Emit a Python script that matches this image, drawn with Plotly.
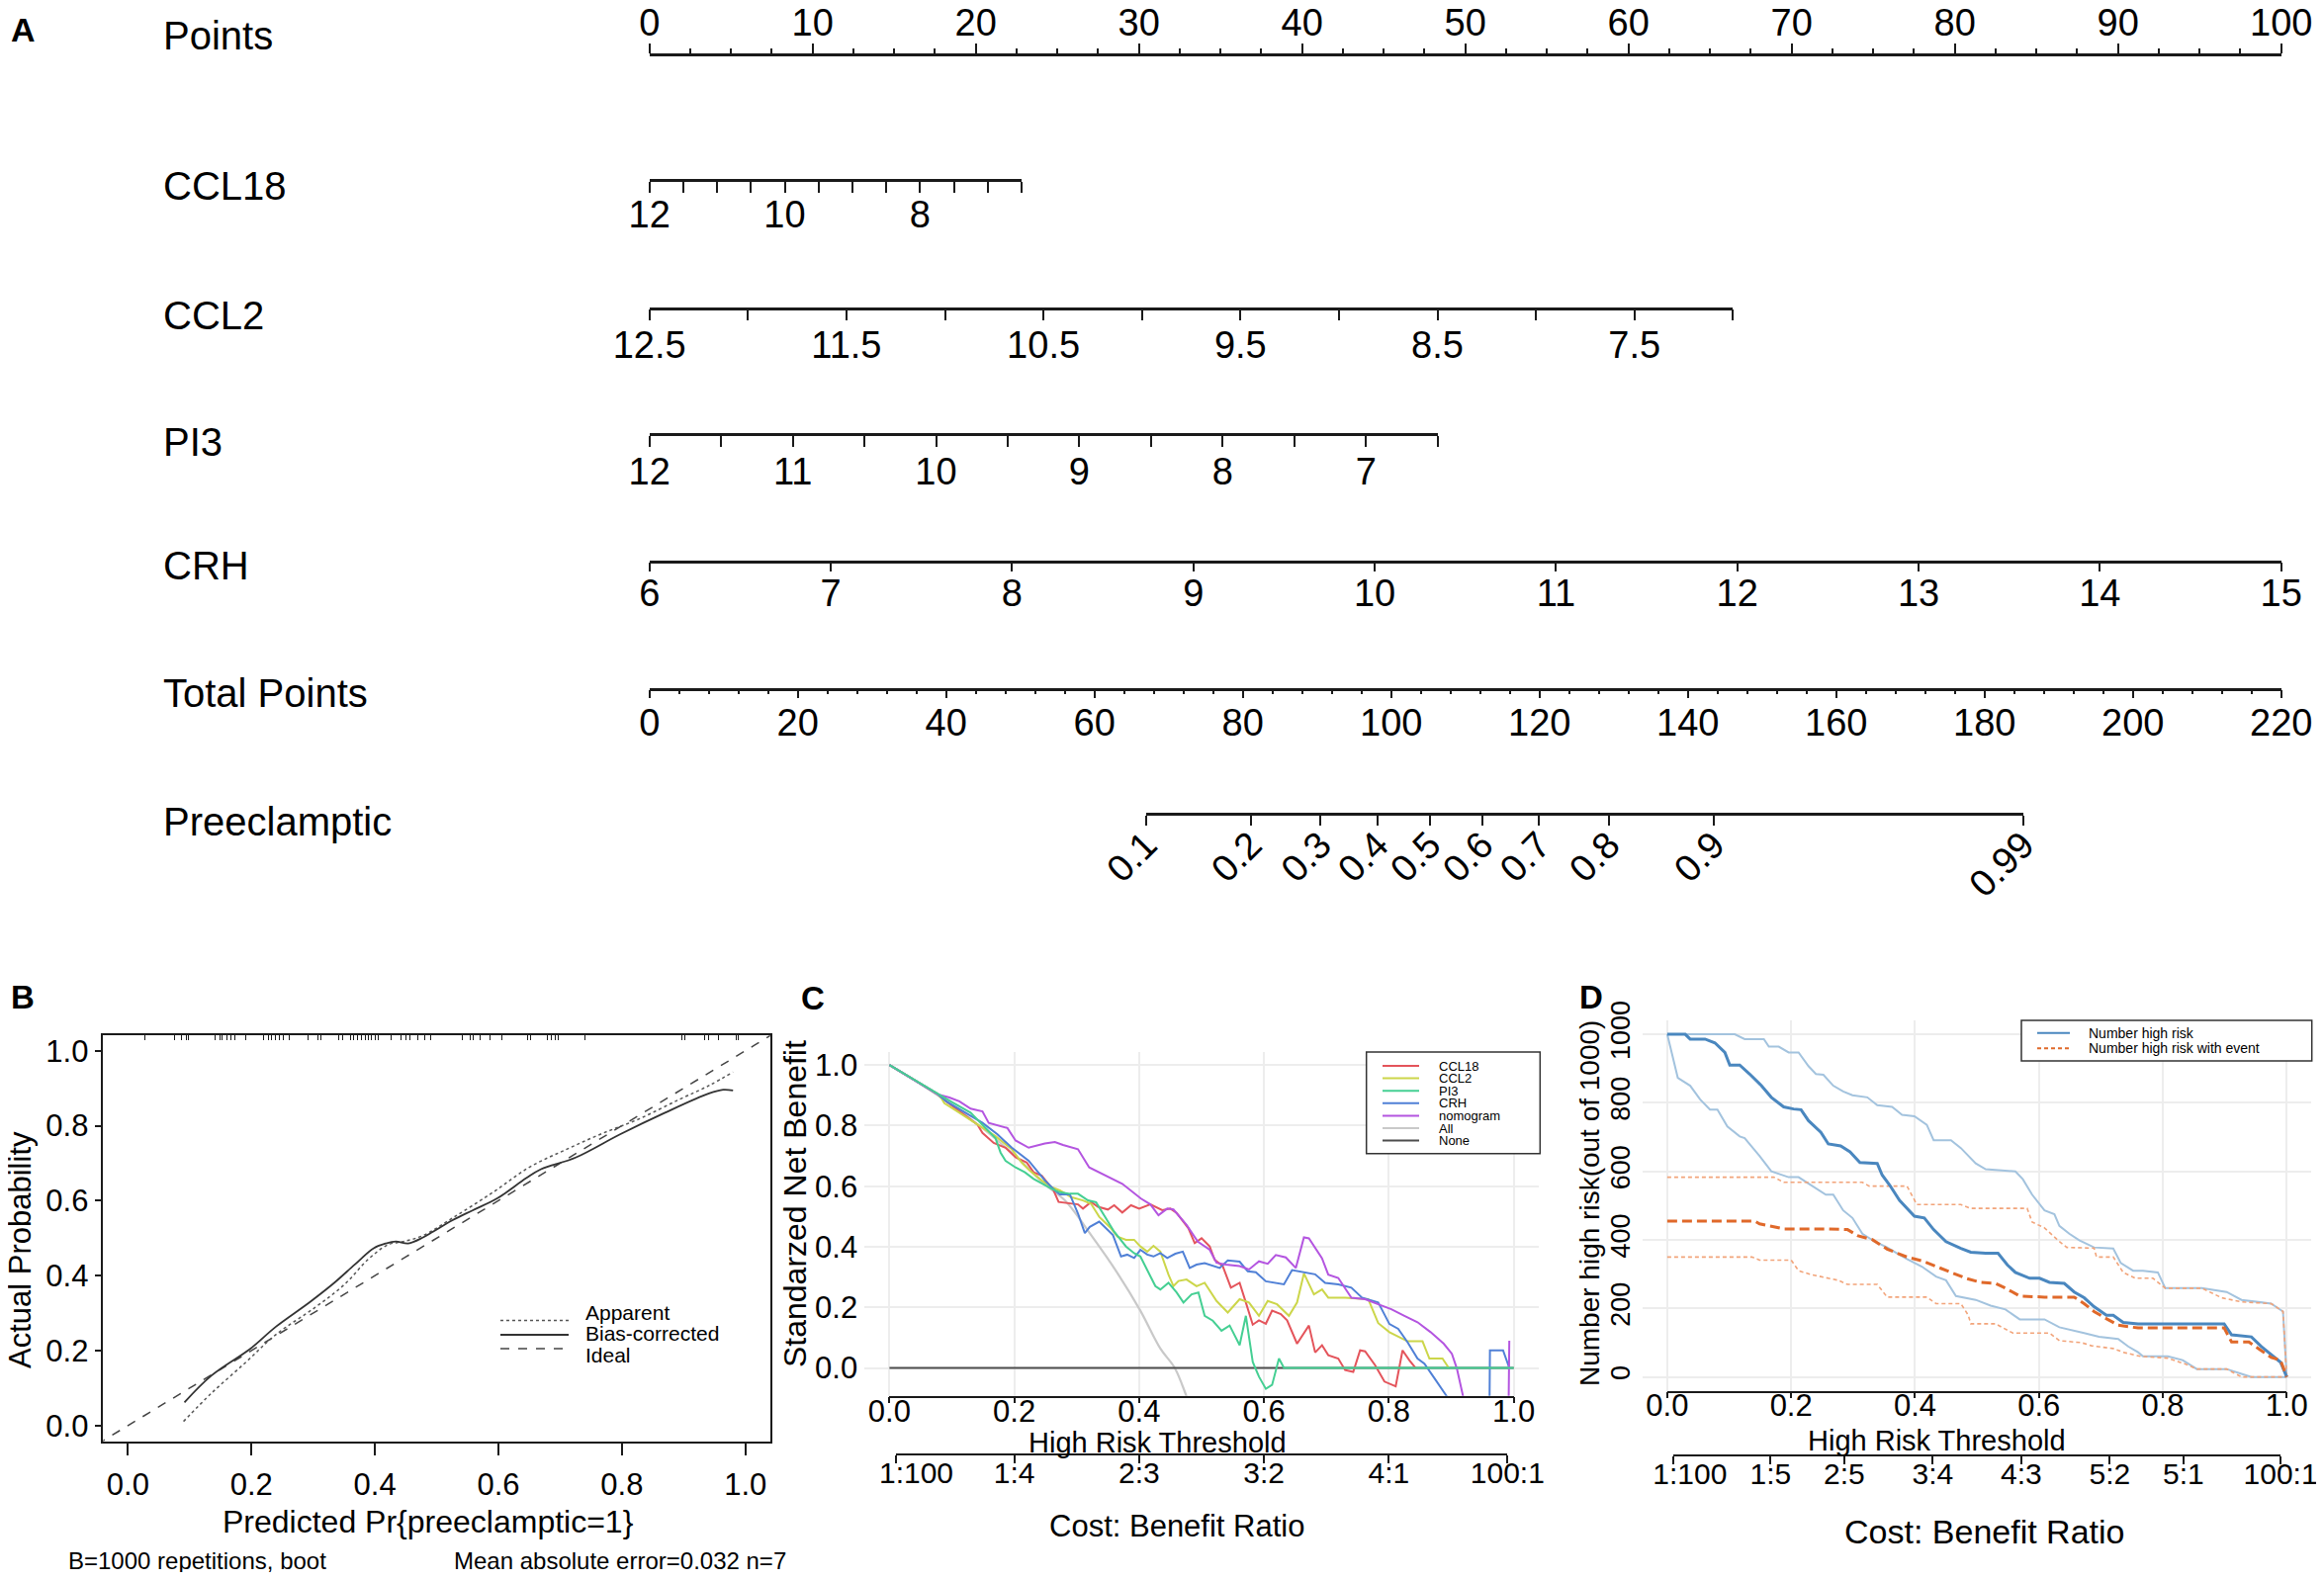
import numpy as np
import plotly.graph_objects as go

# the page has an 8px body margin, so the figure is drawn 16px smaller and
# every position below is given in the 2350x1598 picture's own pixels
OFF = 8
W, H = 2350 - 2 * OFF, 1598 - 2 * OFF

# ---------------- A: nomogram scales ----------------
points_major = [0, 10, 20, 30, 40, 50, 60, 70, 80, 90, 100]
points_minor = [i * 2.5 for i in range(41)]

ccl18_vals = [12, 11.5, 11, 10.5, 10, 9.5, 9, 8.5, 8, 7.5, 7, 6.5]
ccl18_text = ["12", "", "", "", "10", "", "", "", "8", "", "", ""]
ccl18_max_points = 22.8

ccl2_vals = [12.5, 12, 11.5, 11, 10.5, 10, 9.5, 9, 8.5, 8, 7.5, 7]
ccl2_text = ["12.5", "", "11.5", "", "10.5", "", "9.5", "", "8.5", "", "7.5", ""]
ccl2_max_points = 66.4

pi3_vals = [12, 11.5, 11, 10.5, 10, 9.5, 9, 8.5, 8, 7.5, 7, 6.5]
pi3_text = ["12", "", "11", "", "10", "", "9", "", "8", "", "7", ""]
pi3_max_points = 48.3

crh_vals = [6, 7, 8, 9, 10, 11, 12, 13, 14, 15]
crh_max_points = 100

total_major = [0, 20, 40, 60, 80, 100, 120, 140, 160, 180, 200, 220]
total_minor = list(range(0, 221, 4))

risk_probs = [0.1, 0.2, 0.3, 0.4, 0.5, 0.6, 0.7, 0.8, 0.9, 0.99]
lp_intercept = -6.042
lp_slope = 0.05743

# ---------------- B: calibration ----------------
apparent_x = [.090, .135, .191, .239, .303, .351, .390, .422, .446, .478, .526, .590, .650, .709, .765, .829, .893, .941, .980]
apparent_y = [.011, .086, .169, .242, .315, .377, .445, .483, .491, .507, .554, .621, .689, .736, .777, .819, .870, .907, .943]
bias_x = [.0915, .135, .199, .239, .295, .335, .367, .398, .418, .434, .454, .478, .494, .526, .558, .598, .645, .669, .725, .797, .869, .941, .964, .980]
bias_y = [.062, .133, .206, .263, .330, .382, .429, .473, .486, .491, .486, .502, .517, .548, .574, .606, .660, .684, .715, .777, .834, .886, .896, .894]
ideal_x = [-0.05, 1.05]
rug_pred = [0.028, 0.076, 0.087, 0.094, 0.098, 0.141, 0.149, 0.153, 0.161, 0.167, 0.173, 0.191,
            0.219, 0.227, 0.232, 0.239, 0.245, 0.251, 0.261, 0.291, 0.307, 0.312, 0.341, 0.347,
            0.360, 0.366, 0.372, 0.378, 0.384, 0.389, 0.394, 0.400, 0.405, 0.426, 0.442, 0.450,
            0.456, 0.470, 0.480, 0.490, 0.542, 0.554, 0.559, 0.570, 0.586, 0.606, 0.647, 0.652,
            0.679, 0.685, 0.692, 0.697, 0.740, 0.897, 0.902, 0.934, 0.940, 0.956, 0.986, 0.988]

# ---------------- C: decision curves ----------------
ccl18_x = [0, .078, .091, .117, .141, .149, .167, .186, .202, .220, .231, .244, .255, .263, .271, .289, .302, .310,
           .323, .334, .350, .360, .373, .387, .400, .418, .437, .450, .460, .479, .489, .500, .513, .521, .534, .547,
           .561, .571, .582, .592, .603, .613, .627, .637, .653, .672, .682, .693, .703, .719, .730, .743, .754, .762,
           .778, .793, .811, .822, .833, .843]
ccl18_nb = [1.0, .903, .880, .841, .803, .776, .743, .727, .696, .678, .646, .635, .608, .586, .548, .542, .540, .526,
            .548, .532, .523, .537, .513, .537, .526, .540, .521, .526, .512, .461, .412, .428, .401, .357, .336, .265,
            .281, .216, .143, .157, .146, .189, .178, .157, .080, .140, .051, .075, .042, .031, -.007, -.013, .058, .055,
            .009, -.045, -.061, .058, .025, 0.0]
ccl2_x = [0, .078, .083, .088, .107, .138, .170, .196, .212, .225, .244, .260, .273, .291, .310, .323, .336, .355,
          .365, .379, .392, .402, .413, .423, .434, .447, .455, .463, .476, .492, .505, .524, .542, .561, .576, .592,
          .606, .621, .640, .653, .664, .680, .693, .703, .730, .767, .783, .801, .830, .854, .865, .886, .896]
ccl2_nb = [1.0, .903, .891, .874, .849, .809, .765, .722, .678, .651, .619, .597, .586, .564, .553, .542, .499, .461,
           .434, .423, .423, .401, .384, .403, .384, .308, .270, .287, .292, .270, .281, .221, .183, .227, .216, .172,
           .221, .210, .172, .216, .312, .243, .259, .232, .232, .227, .148, .118, .088, .088, .031, .031, 0.0]
pi3_x = [0, .078, .100, .130, .159, .170, .178, .186, .202, .217, .231, .246, .260, .273, .289, .302, .318, .331,
         .345, .360, .379, .392, .402, .413, .426, .434, .447, .460, .471, .484, .495, .505, .518, .532, .545, .561,
         .571, .582, .592, .603, .613, .624, .632, 1.0]
pi3_nb = [1.0, .903, .878, .843, .782, .758, .711, .684, .662, .646, .624, .608, .591, .580, .575, .575, .553, .547,
          .499, .450, .401, .379, .368, .325, .270, .259, .281, .249, .216, .243, .249, .172, .156, .123, .140, .075,
          .172, .020, -.029, -.069, -.056, .031, 0.0, 0.0]
crh_x = [0, .078, .091, .122, .149, .173, .196, .223, .249, .265, .273, .289, .302, .313, .321, .336, .347, .358,
         .371, .381, .392, .402, .413, .423, .434, .445, .458, .470, .481, .492, .505, .529, .542, .561, .574, .587,
         .603, .618, .632, .645, .661, .682, .698, .719, .740, .757, .783, .801, .815, .830, .846, .857, .873, .893,
         .910, .940, .958, .962, .983, .993]
crh_nb = [1.0, .903, .880, .841, .809, .771, .727, .684, .619, .586, .573, .573, .510, .445, .466, .483, .461, .439,
          .368, .374, .363, .390, .374, .368, .379, .363, .377, .384, .330, .341, .346, .330, .355, .351, .319, .316,
          .286, .281, .276, .323, .316, .309, .281, .276, .265, .232, .216, .145, .129, .085, .031, .014, -.034, -.094,
          -.25, -.6, -1.0, .058, .058, 0.0]
nomo_x = [0, .078, .096, .112, .130, .149, .159, .189, .202, .223, .249, .265, .278, .302, .320, .350, .373, .403,
          .418, .431, .445, .455, .476, .494, .513, .524, .539, .561, .576, .592, .606, .619, .635, .651, .664, .672,
          .693, .703, .719, .740, .762, .783, .804, .825, .846, .867, .888, .901, .909, .919, .940, .960, .985, .993]
nomo_nb = [1.0, .903, .893, .880, .856, .847, .809, .792, .751, .727, .741, .746, .736, .722, .662, .630, .608, .559,
           .540, .504, .526, .523, .472, .417, .390, .347, .341, .336, .325, .352, .344, .373, .365, .330, .431, .428,
           .362, .308, .297, .232, .227, .210, .194, .172, .151, .118, .080, .047, -.002, -.094, -.4, -.8, -1.5, .09]
all_x = [0, .05, .10, .15, .20, .25, .281, .323, .365, .402, .434, .457, .476, .49]
all_nb = [1.0, .937, .868, .790, .703, .604, .553, .439, .314, .189, .064, 0.0, -.094, -.17]
none_x = [0, 1]
none_nb = [0, 0]

dca_names = ["CCL18", "CCL2", "PI3", "CRH", "nomogram", "All", "None"]
dca_colors = ["#E4545B", "#CCD64A", "#45CF93", "#5080D6", "#B455E0", "#C9C9C9", "#4D4D4D"]

cb_c_labels = ["1:100", "1:4", "2:3", "3:2", "4:1", "100:1"]
cb_d_labels = ["1:100", "1:5", "2:5", "3:4", "4:3", "5:2", "5:1", "100:1"]

# ---------------- D: clinical impact ----------------
nhr_x = [0, .029, .037, .061, .077, .093, .101, .117, .133, .152, .168, .188, .204, .216, .228, .248, .260, .280,
         .295, .311, .339, .347, .359, .375, .399, .415, .430, .450, .474, .490, .514, .534, .549, .562, .585, .601,
         .617, .641, .657, .673, .689, .709, .720, .736, .760, .832, .899, .911, .943, .959, .979, .990, 1.0]
nhr_y = [1000, 1000, 986, 986, 975, 947, 910, 910, 884, 850, 816, 788, 782, 780, 748, 714, 680, 674, 657, 626, 623,
         589, 560, 515, 469, 464, 430, 395, 375, 364, 361, 361, 327, 305, 288, 288, 276, 273, 248, 231, 205, 180, 180,
         159, 155, 155, 155, 123, 117, 89, 60, 43, 0]
nhr_hi_x = [0, .109, .125, .156, .164, .180, .196, .212, .228, .240, .252, .268, .284, .299, .323, .339, .363, .379,
            .399, .419, .430, .458, .474, .498, .514, .562, .574, .589, .609, .625, .633, .649, .665, .689, .720, .732,
            .752, .768, .792, .804, .863, .903, .927, .975, .994, 1.0]
nhr_hi_y = [1000, 1000, 986, 986, 964, 964, 947, 947, 907, 884, 882, 850, 833, 822, 816, 793, 788, 765, 761, 736,
            691, 691, 668, 623, 606, 600, 577, 532, 486, 475, 441, 418, 399, 378, 375, 333, 310, 310, 305, 259, 259,
            248, 225, 214, 191, 0]
nhr_lo_x = [0, .017, .037, .053, .069, .081, .097, .117, .125, .149, .168, .196, .212, .236, .256, .268, .284, .299,
            .315, .335, .355, .371, .387, .411, .434, .450, .466, .498, .522, .546, .569, .609, .633, .673, .697, .728,
            .744, .760, .768, .808, .832, .855, .903, .927, .943, 1.0]
nhr_lo_y = [1000, 873, 850, 810, 780, 780, 731, 702, 697, 645, 600, 583, 583, 555, 532, 532, 486, 464, 418, 395,
            378, 361, 344, 322, 293, 282, 236, 225, 208, 197, 168, 168, 145, 128, 117, 111, 89, 72, 60, 60, 49, 23,
            23, 9, 0, 0]
ev_x = [0, .141, .149, .164, .188, .260, .291, .308, .331, .355, .371, .387, .411, .434, .458, .482, .506, .530,
        .546, .569, .609, .657, .673, .689, .705, .728, .760, .899, .911, .939, .959, .975, .990, 1.0]
ev_y = [455, 455, 447, 441, 432, 432, 430, 412, 401, 373, 361, 350, 339, 322, 305, 288, 276, 273, 259, 236, 233,
        233, 214, 191, 174, 151, 143, 143, 102, 102, 77, 57, 49, 0]
ev_hi_x = [0, .172, .188, .315, .326, .387, .403, .474, .490, .581, .589, .609, .633, .645, .689, .693, .720, .736,
           .756, .784, .804, .863, .895, .927, .975, .994, 1.0]
ev_hi_y = [583, 583, 568, 568, 557, 557, 503, 503, 492, 492, 452, 435, 395, 378, 376, 350, 350, 305, 288, 288, 259,
           259, 231, 219, 214, 191, 0]
ev_lo_x = [0, .137, .149, .200, .212, .232, .260, .276, .291, .339, .355, .419, .434, .474, .486, .490, .530, .558,
           .617, .633, .669, .685, .720, .736, .764, .808, .836, .855, .903, .927, 1.0]
ev_lo_y = [350, 350, 341, 341, 310, 299, 288, 282, 270, 270, 233, 233, 214, 214, 180, 155, 155, 128, 128, 106, 100,
           91, 83, 72, 60, 55, 38, 23, 23, 0, 0]

SANS = "Liberation Sans, Arial, sans-serif"
INK = "#1a1a1a"
NB = "\u00a0"


def px(v):
    return (v - OFF) / W


def py(v):
    return 1 - (v - OFF) / H


fig = go.Figure()
lay = {}
annos = []
shapes = []


def ghost(xa, ya, xs, yv):
    fig.add_trace(go.Scatter(x=xs, y=[yv] * len(xs), xaxis=xa, yaxis=ya, mode="markers",
                             marker=dict(opacity=0), hoverinfo="skip", showlegend=False))


def text(x, y, s, size, anchor="left", angle=0):
    annos.append(dict(x=px(x), y=py(y), xref="paper", yref="paper", text=s, showarrow=False,
                      xanchor=anchor, yanchor="middle", textangle=angle,
                      font=dict(family=SANS, size=size, color="black")))


# ---- panel A ----
P0, P100 = 656.7, 2306.7
ppp = (P100 - P0) / 100


def nomo_axis(key, ypos, maxpts, rng, vals, labels, ticklen=11, side="bottom", minor=None, standoff=0):
    ax = dict(anchor="free", position=py(ypos), domain=[px(P0), px(P0 + maxpts * ppp)], range=rng,
              side=side, showline=True, linecolor=INK, linewidth=2.5, ticks="outside", ticklen=ticklen,
              tickwidth=1.5, tickcolor=INK, tickmode="array", tickvals=vals, ticktext=labels,
              showgrid=False, zeroline=False, automargin=False, ticklabelstandoff=standoff,
              ticklabeloverflow="allow", tickfont=dict(family=SANS, size=38, color="black"))
    if minor:
        ax["minor"] = minor
    lay[key] = ax


lay["yaxis"] = dict(domain=[0, 1], range=[0, 1], visible=False, automargin=False)
nomo_axis("xaxis", 55, 100, [0, 100], points_major, [str(v) for v in points_major], ticklen=10, side="top",
          minor=dict(tickvals=points_minor, ticklen=5, tickwidth=1.5, tickcolor=INK, ticks="outside"), standoff=-7)
nomo_axis("xaxis2", 182, ccl18_max_points, [ccl18_vals[0], ccl18_vals[-1]], ccl18_vals, ccl18_text, standoff=-10)
nomo_axis("xaxis3", 311.7, ccl2_max_points, [ccl2_vals[0], ccl2_vals[-1]], ccl2_vals, ccl2_text, standoff=-8)
nomo_axis("xaxis4", 439, pi3_max_points, [pi3_vals[0], pi3_vals[-1]], pi3_vals, pi3_text, standoff=-7)
nomo_axis("xaxis5", 567.7, crh_max_points, [crh_vals[0], crh_vals[-1]], crh_vals, [str(v) for v in crh_vals],
          ticklen=9, standoff=-11)
nomo_axis("xaxis6", 696.7, 100, [0, 220], total_major, [str(v) for v in total_major], ticklen=8, standoff=-8,
          minor=dict(tickvals=total_minor, ticklen=4, tickwidth=1.5, tickcolor=INK, ticks="outside"))
prob_pos = [(np.log(p / (1 - p)) - lp_intercept) / lp_slope for p in risk_probs]
lay["xaxis7"] = dict(anchor="free", position=py(823.3),
                     domain=[px(P0 + prob_pos[0] / 220 * (P100 - P0)), px(P0 + prob_pos[-1] / 220 * (P100 - P0))],
                     range=[prob_pos[0], prob_pos[-1]], showline=True, linecolor=INK, linewidth=2.5,
                     ticks="outside", ticklen=10, tickwidth=1.5, tickcolor=INK, tickmode="array",
                     tickvals=prob_pos, ticktext=[str(p) for p in risk_probs], tickangle=-45,
                     showgrid=False, zeroline=False, automargin=False, ticklabelstandoff=-18,
                     ticklabeloverflow="allow", tickfont=dict(family=SANS, size=38, color="black"))
ghost("x", "y", points_major, 0.5)
ghost("x2", "y", ccl18_vals, 0.5)
ghost("x3", "y", ccl2_vals, 0.5)
ghost("x4", "y", pi3_vals, 0.5)
ghost("x5", "y", crh_vals, 0.5)
ghost("x6", "y", total_major, 0.5)
ghost("x7", "y", prob_pos, 0.5)

text(9, 30, "<b>A</b>", 34)
for lbl, yy in [("Points", 36), ("CCL18", 188), ("CCL2", 319), ("PI3", 447), ("CRH", 572),
                ("Total Points", 701), ("Preeclamptic", 831)]:
    text(163, yy, lbl, 40)

# ---- panel B ----
lay["xaxis8"] = dict(domain=[px(104.4), px(778.7)], range=[-0.04, 1.04], anchor="y2", showline=True, mirror=True,
                     linecolor=INK, linewidth=1.5, ticks="outside", ticklen=12, tickwidth=1.5, tickcolor=INK,
                     tickvals=[0, .2, .4, .6, .8, 1], tickformat=".1f", showgrid=False, zeroline=False,
                     automargin=False, ticklabelstandoff=3, tickfont=dict(family=SANS, size=31, color="black"))
lay["yaxis2"] = dict(domain=[py(1458), py(1047)], range=[-0.0427, 1.0414], anchor="x8", showline=True, mirror=True,
                     linecolor=INK, linewidth=1.5, ticks="outside", ticklen=7, tickwidth=1.5, tickcolor=INK,
                     tickvals=[0, .2, .4, .6, .8, 1], tickformat=".1f", showgrid=False, zeroline=False,
                     automargin=False, tickfont=dict(family=SANS, size=31, color="black"))
lay["xaxis9"] = dict(overlaying="x8", anchor="y2", side="top", range=[-0.04, 1.04], tickmode="array",
                     tickvals=rug_pred, ticks="inside", ticklen=5, tickwidth=1, tickcolor=INK, automargin=False,
                     showticklabels=False, showgrid=False, zeroline=False, showline=False)
ghost("x9", "y2", rug_pred, -1)
fig.add_trace(go.Scatter(x=ideal_x, y=ideal_x, xaxis="x8", yaxis="y2", mode="lines",
                         line=dict(color="#444", width=1.5, dash="dash"), showlegend=False))
fig.add_trace(go.Scatter(x=apparent_x, y=apparent_y, xaxis="x8", yaxis="y2", mode="lines",
                         line=dict(color="#555", width=1.5, dash="dot", shape="spline"), showlegend=False))
fig.add_trace(go.Scatter(x=bias_x, y=bias_y, xaxis="x8", yaxis="y2", mode="lines",
                         line=dict(color="#333", width=1.8, shape="spline"), showlegend=False))
text(9, 1008, "<b>B</b>", 33)
text(20, 1264, "Actual Probability", 31, anchor="center", angle=-90)
text(433, 1539, "Predicted Pr{preeclamptic=1}", 32, anchor="center")
text(67, 1578, "B=1000 repetitions, boot", 24)
text(457, 1578, "Mean absolute error=0.032 n=7", 24)
for (lbl, dash, col, wid), ly, ty in zip([("Apparent", "dot", "#555", 1.5), ("Bias-corrected", "solid", "#333", 1.8),
                                          ("Ideal", "dash", "#444", 1.5)], [1335.5, 1350, 1364], [1327, 1348.5, 1370]):
    shapes.append(dict(type="line", xref="paper", yref="paper", x0=px(506), x1=px(575), y0=py(ly), y1=py(ly),
                       line=dict(color=col, width=wid, dash=dash)))
    text(590, ty, lbl, 21)


# ---- panels C and D shared helpers ----
def dca_axes(dx, dy, daux, ax_key, cb_key, left0, unit, ybot, ytop, yrng, ytick, cb_y, cb_labels, first_pad,
             yfont, yangle):
    lay["xaxis%d" % dx] = dict(domain=[px(left0 - 0.04 * unit), px(left0 + 1.04 * unit)], range=[-0.04, 1.04],
                               anchor="y%d" % dy, showgrid=True, gridcolor="#EDEDED", gridwidth=2,
                               tickvals=[0, .2, .4, .6, .8, 1], showticklabels=False, ticks="",
                               zeroline=False, showline=False, automargin=False)
    lay["yaxis%d" % dy] = dict(domain=[py(ybot), py(ytop)], range=yrng, anchor="x%d" % dx, showgrid=True,
                               gridcolor="#EDEDED", gridwidth=2, tickvals=ytick, zeroline=False, showline=False,
                               ticks="", tickangle=yangle, ticklabelstandoff=6, automargin=False,
                               tickformat=".1f" if yrng[1] < 2 else "d",
                               tickfont=dict(family=SANS, size=yfont, color="black"))
    lay["yaxis%d" % daux] = dict(domain=[py(ybot), py(ytop)], range=[0, 1], visible=False, showgrid=False,
                                 automargin=False)
    lay["xaxis%d" % ax_key] = dict(domain=[px(left0), px(left0 + unit)], range=[0, 1], anchor="y%d" % daux,
                                   showline=True, linecolor=INK, linewidth=1.5, ticks="outside", ticklen=6,
                                   tickwidth=1.5, tickcolor=INK, tickvals=[0, .2, .4, .6, .8, 1], tickformat=".1f",
                                   showgrid=False, zeroline=False, ticklabelstandoff=-19, automargin=False,
                                   ticklabeloverflow="allow", tickfont=dict(family=SANS, size=31, color="black"))
    cb_pos = []
    for lab in cb_labels:
        a, b = [float(v) for v in lab.split(":")]
        cb_pos.append(a / (a + b))
    cb_text = [NB * first_pad + cb_labels[0]] + cb_labels[1:]
    lay["xaxis%d" % cb_key] = dict(domain=[px(left0 + cb_pos[0] * unit), px(left0 + cb_pos[-1] * unit)],
                                   range=[cb_pos[0], cb_pos[-1]], anchor="free", position=py(cb_y),
                                   showline=True, linecolor=INK, linewidth=1.5, ticks="outside", ticklen=8,
                                   tickwidth=1.5, tickcolor=INK, tickmode="array", tickvals=cb_pos,
                                   ticktext=cb_text, showgrid=False, zeroline=False, ticklabelstandoff=-16,
                                   automargin=False, ticklabeloverflow="allow",
                                   tickfont=dict(family=SANS, size=30, color="black"))
    ghost("x%d" % ax_key, "y%d" % daux, [0, 1], 0.5)
    ghost("x%d" % cb_key, "y%d" % daux, cb_pos, 0.5)


# ---- panel C ----
dca_axes(10, 3, 5, 11, 12, 899.4, 631.2, 1411.7, 1064.3, [-0.092, 1.042], [0, .2, .4, .6, .8, 1],
         1471, cb_c_labels, 5, 31, 0)
for xs, ys, c in [(all_x, all_nb, dca_colors[5]), (none_x, none_nb, dca_colors[6])]:
    fig.add_trace(go.Scatter(x=xs, y=ys, xaxis="x10", yaxis="y3", mode="lines",
                             line=dict(color=c, width=2.2, shape="spline" if xs is all_x else "linear"),
                             showlegend=False))
for xs, ys, c in [(ccl18_x, ccl18_nb, dca_colors[0]), (ccl2_x, ccl2_nb, dca_colors[1]), (crh_x, crh_nb, dca_colors[3]),
                  (nomo_x, nomo_nb, dca_colors[4]), (pi3_x, pi3_nb, dca_colors[2])]:
    fig.add_trace(go.Scatter(x=xs, y=ys, xaxis="x10", yaxis="y3", mode="lines",
                             line=dict(color=c, width=2), showlegend=False))
text(808, 1009, "<b>C</b>", 33)
text(804, 1218, "Standarzed Net Benefit", 32, anchor="center", angle=-90)
text(1170, 1459, "High Risk Threshold", 29, anchor="center")
text(1190, 1543, "Cost: Benefit Ratio", 31, anchor="center")
shapes.append(dict(type="rect", xref="paper", yref="paper", x0=px(1381.7), x1=px(1557.3), y0=py(1064), y1=py(1166.7),
                   line=dict(color="#333", width=1.5), fillcolor="white"))
for i, (nm, c) in enumerate(zip(dca_names, dca_colors)):
    yy = 1078 + i * 12.6
    shapes.append(dict(type="line", xref="paper", yref="paper", x0=px(1398), x1=px(1435), y0=py(yy), y1=py(yy),
                       line=dict(color=c, width=2)))
    text(1453, yy, nm, 13)

# ---- panel D ----
dca_axes(13, 4, 6, 14, 15, 1685.9, 626.4, 1406.5, 1032.2, [-40, 1040], [0, 200, 400, 600, 800, 1000],
         1472, cb_d_labels, 4, 27, -90)
LB, DB, LO, DO = "#A3C3DE", "#4A87BF", "#F2A47A", "#E0692A"
for xs, ys, c, w, d in [(nhr_hi_x, nhr_hi_y, LB, 2, "solid"), (nhr_lo_x, nhr_lo_y, LB, 2, "solid"),
                        (ev_hi_x, ev_hi_y, LO, 1.6, "4px,3px"), (ev_lo_x, ev_lo_y, LO, 1.6, "4px,3px"),
                        (nhr_x, nhr_y, DB, 3, "solid"), (ev_x, ev_y, DO, 3, "10px,5px")]:
    fig.add_trace(go.Scatter(x=xs, y=ys, xaxis="x13", yaxis="y4", mode="lines",
                             line=dict(color=c, width=w, dash=d), showlegend=False))
text(1595, 1008, "<b>D</b>", 33)
text(1607, 1217, "Number high risk(out of 1000)", 28, anchor="center", angle=-90)
text(1958, 1457, "High Risk Threshold", 29, anchor="center")
text(2006, 1549, "Cost: Benefit Ratio", 34, anchor="center")
shapes.append(dict(type="rect", xref="paper", yref="paper", x0=px(2044), x1=px(2337.7), y0=py(1032), y1=py(1073),
                   line=dict(color="#333", width=1.5), fillcolor="white"))
for (nm, c, d), yy in zip([("Number high risk", DB, "solid"), ("Number high risk with event", DO, "4px,3px")],
                          [1044.7, 1060.3]):
    shapes.append(dict(type="line", xref="paper", yref="paper", x0=px(2060), x1=px(2093), y0=py(yy), y1=py(yy),
                       line=dict(color=c, width=2, dash=d)))
    text(2110, yy, nm, 14)

fig.update_layout(width=W, height=H, margin=dict(l=0, r=0, t=0, b=0, autoexpand=False), paper_bgcolor="white",
                  plot_bgcolor="rgba(0,0,0,0)", showlegend=False, annotations=annos, shapes=shapes,
                  font=dict(family=SANS, color="black"), **lay)
fig.write_html("out.html")
